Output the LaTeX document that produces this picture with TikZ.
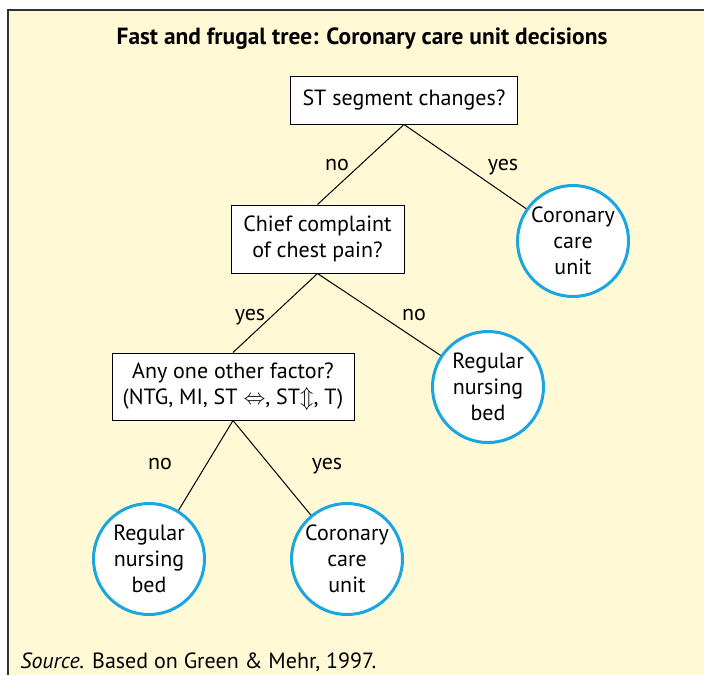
\documentclass[tikz,border=0pt]{standalone}
\usepackage{fontspec}
\setmainfont{PT Sans}
\usepackage{tikz}

\definecolor{notepaper}{RGB}{255,249,214}
\definecolor{ccublue}{RGB}{26,167,225}

\tikzset{
    question/.style={draw, fill=white, line width=0.5pt, align=center, inner sep=0pt},
    outcome/.style={circle, draw=ccublue, line width=1.5pt, fill=white, minimum size=55.5pt, inner sep=0pt, align=center},
    answer/.style={inner sep=0pt, anchor=base}
}

\begin{document}
\begin{tikzpicture}[x=0.5pt, y=-0.5pt, font=\fontsize{11}{13}\selectfont]
            \useasboundingbox (0, 0) rectangle (704, 675);
            \fill[white] (0, 0) rectangle (704, 675);
            \fill[notepaper] (8, 10) rectangle (704, 675);
            \draw[black!80, line width=1pt] (8, 675) -- (8, 10) -- (704, 10);

            \node[font=\fontsize{11.7}{14}\selectfont\bfseries] (title) at (362, 39) {Fast and frugal tree: Coronary care unit decisions};

            \node[question, minimum width=113.5pt, minimum height=24pt] (st) at (404, 100) {ST segment changes?};
            \node[question, minimum width=86.5pt, minimum height=34pt] (chief) at (317.5, 239) {Chief complaint\\of chest pain?};
            \node[question, minimum width=121pt, minimum height=33.5pt] (factor) at (233, 386.5) {Any one other factor?\\(NTG, MI, ST $\Leftrightarrow$, ST$\Updownarrow$, T)};

            \node[outcome] (ccuA) at (573, 241) {Coronary\\care\\unit};
            \node[outcome] (bedA) at (488, 387) {Regular\\nursing\\bed};
            \node[outcome] (bedB) at (149, 559) {Regular\\nursing\\bed};
            \node[outcome] (ccuB) at (347, 559) {Coronary\\care\\unit};

            \draw[line width=0.5pt] (st.south) -- (chief.north);
            \draw[line width=0.5pt] (st.south) -- (ccuA);
            \draw[line width=0.5pt] (chief.south) -- (factor.north);
            \draw[line width=0.5pt] (chief.south) -- (bedA);
            \draw[line width=0.5pt] (factor.south) -- (bedB);
            \draw[line width=0.5pt] (factor.south) -- (ccuB);

            \node[answer] (noA) at (337, 170) {no};
            \node[answer] (yesA) at (503, 170) {yes};
            \node[answer] (yesB) at (250, 320) {yes};
            \node[answer] (noB) at (414, 320) {no};
            \node[answer] (noC) at (160, 469) {no};
            \node[answer] (yesC) at (327, 469) {yes};

            \node[anchor=base west, inner sep=0pt] (source) at (20, 668) {\textit{Source.} Based on Green \& Mehr, 1997.};
        \end{tikzpicture}
\end{document}
